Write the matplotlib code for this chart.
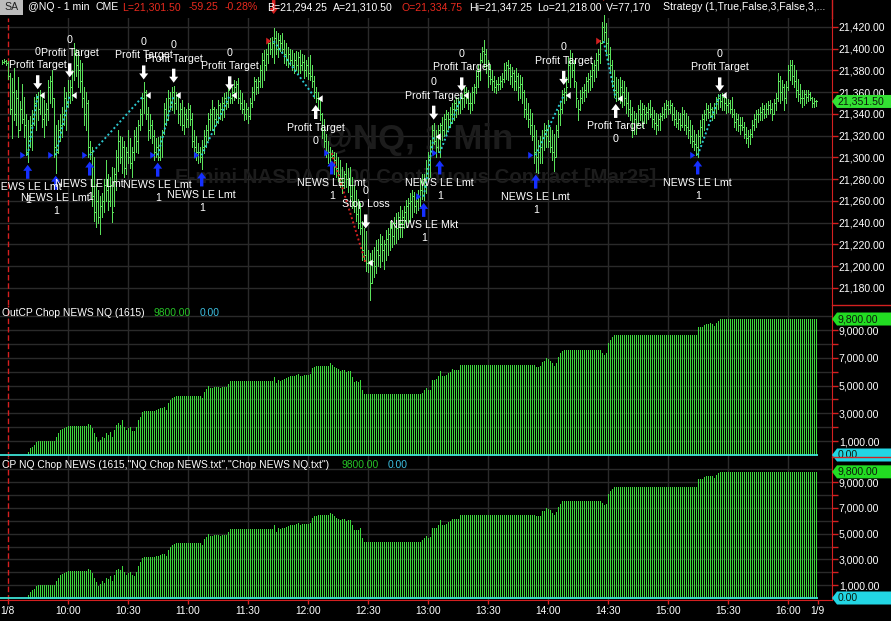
import numpy as np
import matplotlib
matplotlib.use("Agg")
import matplotlib.pyplot as plt
from matplotlib import transforms
from matplotlib.patches import Polygon, Rectangle
from matplotlib.lines import Line2D

plt.rcParams['font.family'] = ['Liberation Sans', 'DejaVu Sans']

# ---- data -------------------------------------------------------------
PRICE_BASE = 21000          # prices below are points above 21,000
minutes = list(range(-3, 405))   # one bar per minute, minutes after 09:30

highs = [
    390, 391, 390, 389, 378, 373, 382, 362, 374, 352,
    368, 356, 340, 334, 338, 344, 356, 358, 360, 362,
    359, 353, 350, 371, 375, 380, 355, 330, 334, 340,
    346, 365, 360, 371, 371, 380, 405, 400, 399, 390,
    387, 365, 360, 353, 315, 310, 300, 276, 270, 265,
    267, 280, 298, 285, 282, 291, 290, 307, 325, 320,
    319, 315, 310, 325, 318, 310, 325, 328, 334, 345,
    359, 369, 362, 346, 340, 334, 325, 318, 319, 320,
    325, 350, 355, 362, 360, 365, 366, 360, 359, 350,
    353, 346, 345, 350, 348, 341, 325, 320, 313, 310,
    316, 325, 330, 341, 345, 353, 346, 345, 353, 350,
    356, 359, 360, 368, 359, 365, 371, 370, 373, 362,
    359, 353, 350, 346, 355, 365, 374, 372, 374, 385,
    396, 399, 400, 408, 410, 411, 419, 416, 414, 413,
    414, 408, 405, 402, 400, 399, 396, 398, 397, 399,
    395, 394, 390, 392, 394, 385, 375, 365, 360, 356,
    341, 335, 322, 315, 310, 307, 305, 304, 300, 298,
    291, 288, 295, 290, 291, 282, 275, 270, 262, 258,
    242, 235, 232, 215, 212, 215, 218, 224, 225, 230,
    228, 224, 233, 235, 242, 240, 245, 249, 250, 255,
    252, 255, 261, 263, 267, 270, 268, 264, 270, 279,
    285, 285, 298, 305, 316, 330, 332, 325, 330, 332,
    337, 340, 344, 342, 346, 350, 353, 356, 355, 359,
    358, 365, 365, 362, 359, 365, 368, 380, 385, 396,
    402, 408, 400, 390, 385, 380, 375, 371, 374, 375,
    378, 387, 388, 390, 386, 383, 380, 382, 378, 376,
    374, 362, 355, 350, 345, 341, 330, 325, 316, 320,
    325, 332, 330, 334, 328, 325, 322, 330, 344, 352,
    362, 364, 374, 392, 399, 396, 390, 369, 353, 362,
    365, 368, 374, 378, 380, 387, 390, 396, 400, 408,
    425, 431, 424, 410, 402, 390, 380, 374, 372, 374,
    371, 370, 365, 360, 353, 346, 343, 341, 348, 353,
    350, 348, 346, 350, 353, 346, 344, 341, 340, 341,
    346, 350, 353, 352, 353, 350, 346, 344, 342, 341,
    346, 344, 341, 338, 334, 330, 325, 322, 325, 334,
    340, 344, 350, 348, 350, 346, 350, 356, 358, 358,
    359, 357, 356, 354, 353, 356, 345, 341, 340, 337,
    337, 333, 328, 325, 326, 334, 340, 344, 345, 346,
    350, 348, 350, 352, 353, 350, 354, 359, 378, 375,
    371, 368, 370, 385, 390, 390, 385, 380, 372, 368,
    362, 362, 362, 362, 360, 356, 355, 353,
]
lows = [
    386, 387, 385, 372, 340, 318, 334, 330, 319, 325,
    332, 319, 302, 296, 310, 307, 330, 325, 334, 340,
    328, 319, 330, 334, 350, 346, 300, 286, 304, 315,
    319, 330, 325, 346, 350, 353, 371, 375, 365, 360,
    346, 330, 325, 300, 299, 255, 242, 236, 240, 230,
    245, 250, 260, 252, 255, 241, 255, 270, 288, 295,
    286, 282, 285, 295, 290, 282, 298, 305, 304, 325,
    330, 341, 335, 316, 318, 313, 298, 300, 298, 298,
    300, 322, 330, 334, 345, 344, 341, 345, 332, 330,
    325, 322, 328, 328, 330, 310, 300, 298, 295, 296,
    289, 304, 310, 316, 325, 325, 322, 330, 332, 335,
    334, 337, 345, 346, 350, 350, 353, 355, 350, 345,
    341, 334, 335, 332, 335, 346, 353, 358, 359, 365,
    365, 371, 380, 387, 395, 392, 387, 395, 392, 398,
    396, 387, 385, 383, 385, 380, 378, 380, 378, 378,
    380, 373, 375, 372, 371, 365, 355, 351, 345, 334,
    318, 310, 300, 295, 288, 300, 285, 282, 278, 273,
    267, 272, 273, 268, 261, 254, 250, 242, 235, 230,
    206, 205, 196, 195, 169, 185, 190, 194, 200, 199,
    205, 197, 206, 210, 215, 218, 220, 221, 225, 227,
    227, 235, 236, 240, 242, 245, 250, 249, 252, 255,
    262, 261, 267, 280, 282, 304, 312, 300, 305, 300,
    316, 320, 322, 326, 328, 332, 334, 337, 340, 341,
    345, 346, 350, 345, 341, 344, 350, 359, 365, 371,
    388, 383, 378, 365, 368, 362, 360, 359, 362, 363,
    365, 369, 372, 371, 368, 365, 362, 362, 353, 355,
    350, 337, 335, 328, 322, 316, 295, 287, 286, 295,
    295, 307, 310, 310, 305, 298, 288, 300, 319, 330,
    341, 350, 353, 369, 365, 374, 365, 346, 334, 344,
    350, 352, 356, 360, 362, 365, 370, 374, 380, 387,
    405, 408, 396, 390, 378, 365, 356, 352, 353, 350,
    346, 348, 341, 338, 334, 319, 322, 322, 330, 334,
    328, 332, 332, 335, 337, 328, 326, 322, 325, 325,
    334, 336, 337, 340, 341, 334, 330, 328, 326, 325,
    328, 325, 322, 318, 313, 310, 307, 302, 300, 313,
    320, 325, 334, 336, 337, 334, 336, 341, 345, 346,
    344, 344, 341, 342, 341, 337, 328, 325, 324, 322,
    325, 318, 313, 310, 312, 319, 325, 328, 333, 334,
    334, 336, 337, 340, 341, 334, 340, 344, 352, 350,
    353, 344, 350, 362, 371, 368, 365, 356, 352, 350,
    346, 348, 350, 352, 353, 346, 346, 347,
]
closes = [
    388, 389, 387, 375, 345, 360, 340, 355, 325, 345,
    335, 330, 305, 320, 330, 340, 350, 355, 345, 357,
    335, 340, 345, 365, 370, 355, 310, 305, 325, 330,
    340, 355, 350, 360, 365, 358, 395, 385, 380, 370,
    355, 340, 350, 310, 305, 265, 250, 260, 245, 255,
    260, 275, 270, 260, 275, 250, 285, 300, 315, 300,
    310, 290, 305, 300, 295, 305, 320, 315, 330, 340,
    355, 360, 340, 325, 330, 320, 305, 310, 300, 315,
    320, 345, 340, 355, 350, 360, 350, 357, 340, 345,
    330, 340, 335, 345, 335, 315, 310, 305, 305, 300,
    310, 320, 325, 335, 340, 345, 335, 340, 348, 345,
    350, 355, 350, 362, 355, 360, 365, 368, 355, 350,
    345, 340, 345, 338, 350, 360, 370, 365, 370, 380,
    390, 385, 395, 405, 400, 405, 410, 400, 408, 405,
    400, 395, 390, 395, 390, 385, 390, 385, 392, 385,
    388, 380, 385, 378, 375, 370, 360, 355, 355, 340,
    325, 315, 305, 305, 300, 302, 298, 290, 285, 280,
    275, 285, 280, 275, 265, 260, 255, 248, 240, 235,
    215, 210, 203, 205, 185, 205, 200, 215, 210, 220,
    215, 220, 225, 230, 235, 228, 240, 235, 245, 240,
    245, 250, 255, 258, 260, 265, 255, 260, 265, 270,
    280, 275, 290, 300, 310, 325, 315, 310, 325, 330,
    325, 335, 340, 335, 340, 345, 350, 345, 350, 355,
    355, 360, 355, 350, 350, 360, 365, 375, 380, 390,
    398, 395, 385, 375, 372, 370, 365, 368, 368, 370,
    372, 380, 385, 382, 375, 378, 370, 375, 365, 368,
    360, 345, 340, 335, 330, 320, 305, 300, 305, 310,
    318, 325, 320, 315, 310, 305, 300, 325, 340, 345,
    358, 360, 365, 385, 390, 380, 370, 355, 345, 355,
    360, 362, 370, 372, 375, 380, 385, 390, 395, 405,
    420, 415, 405, 395, 385, 370, 362, 360, 355, 365,
    360, 355, 350, 345, 340, 325, 335, 330, 345, 340,
    345, 340, 342, 345, 340, 335, 332, 330, 335, 338,
    340, 345, 348, 345, 348, 340, 335, 332, 335, 330,
    340, 330, 328, 325, 320, 315, 312, 310, 320, 328,
    335, 340, 345, 342, 345, 340, 346, 352, 355, 352,
    356, 350, 348, 350, 345, 340, 333, 335, 330, 330,
    328, 322, 318, 320, 322, 330, 335, 340, 340, 342,
    345, 340, 345, 348, 345, 340, 350, 355, 370, 360,
    365, 355, 365, 380, 385, 375, 370, 362, 358, 355,
    355, 358, 356, 358, 355, 350, 352, 351.5,
]

# strategy equity (closed + open), dollars, one value per bar
equity = ([0] * 13 + [240, 500, 600, 720, 960] + [1000] * 9
          + [1320, 1560, 1800, 1850, 1920, 2000, 2090] + [2090] * 9 + [2230]
          + [2160, 1920, 1560, 1270, 960, 1080, 1320, 1200, 1560, 1440,
             1680, 1320, 1800, 2160, 2280, 2160, 2520, 2040, 1800, 1920,
             2040, 1750, 1730, 2040, 2520, 2760, 3120, 3170]
          + [3170] * 5
          + [3250, 3290, 3360, 3400, 3440, 3240, 3720, 3960, 4100, 4200]
          + [4250] * 13
          + [4080, 4560, 4730, 4970, 4850, 4800, 4880, 4920, 4900, 4800,
             4880, 4880, 4900, 5100, 5330]
          + [5330] * 21
          + [5640, 5160, 5400, 5330, 5400, 5450, 5520, 5600, 5690, 5690,
             5690, 5760, 5840, 5690, 5720, 5760, 5760, 5760, 5840, 6240,
             6360, 6400]
          + [6410] * 6
          + [6600, 6500, 6360, 6250, 6170, 6070, 6100, 6120, 6000, 6050,
             6070, 5640, 5280, 5300, 5280, 5400, 4680, 4370]
          + [4370] * 28
          + [4490, 4650, 4800, 4680, 4700, 5400, 5420, 5470, 5690, 6050,
             5690, 5690, 5760, 5930, 6000, 6170, 6120, 6120, 6120, 6460]
          + [6460] * 37
          + [6360, 6360, 6400, 6720, 6770, 6960, 6900, 6800, 6600, 6430,
             6650, 7080, 7330, 7520, 7570]
          + [7570] * 18
          + [7380, 7210, 7330, 8050, 8290, 8480, 8650]
          + [8650] * 41
          + [9250, 9210, 9250, 9370, 9440, 9440, 9490, 9440, 9300, 9540,
             9680, 9800]
          + [9800] * 48)

# trades (bar minute, price in points above 21,000)
entry_min = [10, 24, 41, 75, 97, 133, 162, 208, 216, 264, 298, 345]
entry_price = [302, 302, 302, 302, 302, 407, 304, 264, 304, 302, 407, 302]
entry_side = ['long', 'long', 'long', 'long', 'long', 'short',
              'long', 'long', 'long', 'long', 'short', 'long']
entry_name = ['NEWS LE Lmt'] * 7 + ['NEWS LE Mkt'] + ['NEWS LE Lmt'] * 4
exit_min = [15, 31, 68, 83, 111, 154, 179, 213, 227, 278, 304, 356]
exit_price = [357, 357, 357, 357, 357, 354, 203, 319, 357, 357, 354, 357]
exit_name = ['Profit Target'] * 6 + ['Stop Loss'] + ['Profit Target'] * 5

price_ticks = list(range(180, 421, 20))
equity_major = [1000, 3000, 5000, 7000, 9000]
equity_minor = [2000, 4000, 6000, 8000]
equity_grid = list(range(1000, 10001, 1000))
last_equity = 9800
time_ticks = [0, 30, 60, 90, 120, 150, 180, 210, 240, 270, 300, 330, 360, 390, 405]
time_labels = ['1/8', '10:00', '10:30', '11:00', '11:30', '12:00', '12:30', '13:00',
               '13:30', '14:00', '14:30', '15:00', '15:30', '16:00', '1/9']

header = [('@NQ - 1 min', 28, 'w'), ('CME', 95, 'w'), ('L=21,301.50', 122, 'r'),
          ('-59.25', 189, 'r'), ('-0.28%', 225, 'r'), ('B=21,294.25', 267, 'w'),
          ('A=21,310.50', 333, 'w'), ('O=21,334.75', 402, 'r'),
          ('Hi=21,347.25', 469, 'w'), ('Lo=21,218.00', 537, 'w'),
          ('V=77,170', 606, 'w'), ('Strategy (1,True,False,3,False,3,...', 663, 'w')]

# ---- style ------------------------------------------------------------
RED = '#d42020'
GRID = '#2a2a2a'
PGREEN = '#5ae05a'
EGREEN = '#3cd83c'
CYAN = '#3ee0d4'
DOT = '#2cc8d0'
BLUE = '#1530ff'
FS = 7.6

W, H = 891, 621
RIGHT = 832
fig = plt.figure(figsize=(W / 100, H / 100), dpi=100, facecolor='black')


def rows_axes(top, bottom):
    a = fig.add_axes([0, 1 - bottom / H, RIGHT / W, (bottom - top) / H], facecolor='black')
    a.set_xlim(-3.85, 412.15)
    for s in ['left', 'top', 'bottom']:
        a.spines[s].set_visible(False)
    a.spines['right'].set_color(RED)
    a.yaxis.tick_right()
    a.tick_params(axis='y', which='both', colors=RED, labelcolor='white',
                  length=4, width=1, labelsize=FS, pad=1)
    a.tick_params(axis='x', length=0, labelbottom=False)
    for t in time_ticks[1:-1]:
        a.axvline(t, color=GRID, lw=1, zorder=0)
    a.axvline(time_ticks[0], color=RED, lw=1, ls=(0, (4, 2)), zorder=1)
    return a


ax_p = rows_axes(18, 305)
ax_e1 = rows_axes(305, 457)
ax_e2 = rows_axes(457, 600)
ax_p.set_ylim(164.35, 428.25)
ax_e1.set_ylim(-144, 10810)
ax_e2.set_ylim(-155, 10952)


def pix(ax, x, y, xtrans=None):
    base = ax.transData if xtrans is None else xtrans
    return transforms.Affine2D() + transforms.ScaledTranslation(x, y, base)


def tag(ax, y, text, fc):
    bl = transforms.blended_transform_factory(fig.transFigure, ax.transData)
    verts = [(0, 0), (5, 6.5), (60, 6.5), (60, -6.5), (5, -6.5)]
    ax.add_patch(Polygon(verts, closed=True, fc=fc, ec='none', clip_on=False,
                         zorder=20, transform=pix(ax, RIGHT / W, y, bl)))
    ax.annotate(text, xy=(RIGHT / W, y), xycoords=bl, xytext=(6, 0),
                textcoords='offset pixels', va='center', ha='left',
                fontsize=FS, color='#0c1c0c', zorder=21, annotation_clip=False)


# ---- price panel ------------------------------------------------------
ax_p.set_yticks(price_ticks, [f'{PRICE_BASE + v:,.2f}' for v in price_ticks])
for v in price_ticks:
    ax_p.axhline(v, color=GRID, lw=1, zorder=0)
ax_p.text(0.5, 0.575, '@NQ, 1 Min', transform=ax_p.transAxes, ha='center', va='center',
          fontsize=25, fontweight='bold', color='#1c1c1c', zorder=0.5)
ax_p.text(0.5, 0.443, 'E-mini NASDAQ 100 Continuous Contract [Mar25]',
          transform=ax_p.transAxes, ha='center', va='center',
          fontsize=14.7, fontweight='bold', color='#1c1c1c', zorder=0.5)
mins = np.array(minutes)
ax_p.vlines(mins, lows, highs, color=PGREEN, lw=0.72, zorder=3, clip_on=False,
            antialiased=False)
ax_p.hlines(closes, mins, mins + 0.5, color=PGREEN, lw=0.72, zorder=3, clip_on=False,
            antialiased=False)
tag(ax_p, closes[-1], f'{PRICE_BASE + closes[-1]:,.2f}', '#33e033')

bar_hi = dict(zip(minutes, highs))
bar_lo = dict(zip(minutes, lows))


def arrow(m, anchor, up, color, g=3):
    # arrow pointing at the bar: up=True sits under the low pointing up
    s = -1 if up else 1
    verts = [(0, s * g), (-4.5, s * (g + 6)), (-1.7, s * (g + 6)), (-1.7, s * (g + 14)),
             (1.7, s * (g + 14)), (1.7, s * (g + 6)), (4.5, s * (g + 6))]
    ax_p.add_patch(Polygon(verts, closed=True, fc=color, ec='none', zorder=6,
                           clip_on=False, transform=pix(ax_p, m, anchor)))


def label(m, anchor, lines, below):
    for txt, off in zip(lines, [25.5, 38.5] if below else [27, 40.5]):
        ax_p.annotate(txt, xy=(m, anchor), xytext=(0, -off if below else off),
                      textcoords='offset pixels', ha='center', va='center',
                      color='white', fontsize=7.7, zorder=7, annotation_clip=False)


for i in range(len(entry_min)):
    em, ep, xm, xp = entry_min[i], entry_price[i], exit_min[i], exit_price[i]
    long_trade = entry_side[i] == 'long'
    win = (xp > ep) == long_trade
    ax_p.plot([em, xm], [ep, xp], color=DOT if win else RED, lw=1.4,
              ls=(0, (1, 1.3)), zorder=4)
    ecol = BLUE if long_trade else RED
    ax_p.add_patch(Polygon([(-7.5, 3.5), (-7.5, -3.5), (-2.5, 0)], closed=True, fc=ecol,
                           ec='none', zorder=6, transform=pix(ax_p, em, ep)))
    ax_p.add_patch(Polygon([(2, 0), (7, 3.5), (7, -3.5)], closed=True, fc='white',
                           ec='none', zorder=6, transform=pix(ax_p, xm, xp)))
    if long_trade:
        arrow(em, bar_lo[em], True, BLUE)
        label(em, bar_lo[em], [entry_name[i], '1'], True)
        arrow(xm, bar_hi[xm], False, 'white')
        label(xm, bar_hi[xm], [exit_name[i], '0'], False)
    else:
        arrow(em, bar_hi[em], False, RED, g=14)
        arrow(xm, bar_lo[xm], True, 'white')
        label(xm, bar_lo[xm], [exit_name[i], '0'], True)

# ---- equity panels ----------------------------------------------------
for ax in (ax_e1, ax_e2):
    ax.set_yticks(equity_major, [f'{v:,.2f}' for v in equity_major])
    ax.set_yticks(equity_minor, minor=True)
    ax.tick_params(axis='y', which='minor', labelleft=False, labelright=False)
    for v in equity_grid:
        ax.axhline(v, color=GRID, lw=1, zorder=0)
    ax.vlines(mins, 0, equity, color=EGREEN, lw=0.72, zorder=3, antialiased=False)
    ax.hlines(0, ax.get_xlim()[0], minutes[-1] + 1, color=CYAN, lw=1.3, zorder=4)
    tag(ax, last_equity, f'{last_equity:,.2f}', '#22dd22')
    tag(ax, 0, '0.00', '#22d6e4')

ax_e2.spines['bottom'].set_visible(True)
ax_e2.spines['bottom'].set_color(RED)
ax_e2.set_xticks(time_ticks, time_labels)
ax_e2.tick_params(axis='x', length=3, width=1, color=RED, labelcolor='white',
                  labelsize=7.4, pad=1.5, labelbottom=True)

# ---- frame lines, header, panel titles --------------------------------
fig.add_artist(Line2D([RIGHT / W] * 2, [1 - 18 / H, 1], color=RED, lw=1))
for yy in (305, 457):
    fig.add_artist(Line2D([RIGHT / W, 1], [1 - yy / H] * 2, color=RED, lw=1))

fig.add_artist(Rectangle((0, 1 - 15 / H), 23 / W, 15 / H, transform=fig.transFigure,
                         fc='#bcbcbc', ec='none'))
fig.text(4 / W, 1 - 7.5 / H, 'SA', color='#202020', fontsize=7.6, va='center')
for txt, x, c in header:
    fig.text(x / W, 1 - 7.5 / H, txt, color='white' if c == 'w' else '#e82a1e',
             fontsize=7.6, va='center')

for y0, name, xs in [(313, 'OutCP Chop NEWS NQ (1615)', (154, 200)),
                     (465, 'CP NQ Chop NEWS (1615,"NQ Chop NEWS.txt","Chop NEWS NQ.txt")',
                      (342, 388))]:
    fig.text(2 / W, 1 - y0 / H, name, color='white', fontsize=7.4, va='center')
    fig.text(xs[0] / W, 1 - y0 / H, f'{last_equity:.2f}', color='#26c426',
             fontsize=7.4, va='center')
    fig.text(xs[1] / W, 1 - y0 / H, '0.00', color='#3cbfe0', fontsize=7.4, va='center')

fig.savefig('out.png', dpi=100, facecolor='black')
